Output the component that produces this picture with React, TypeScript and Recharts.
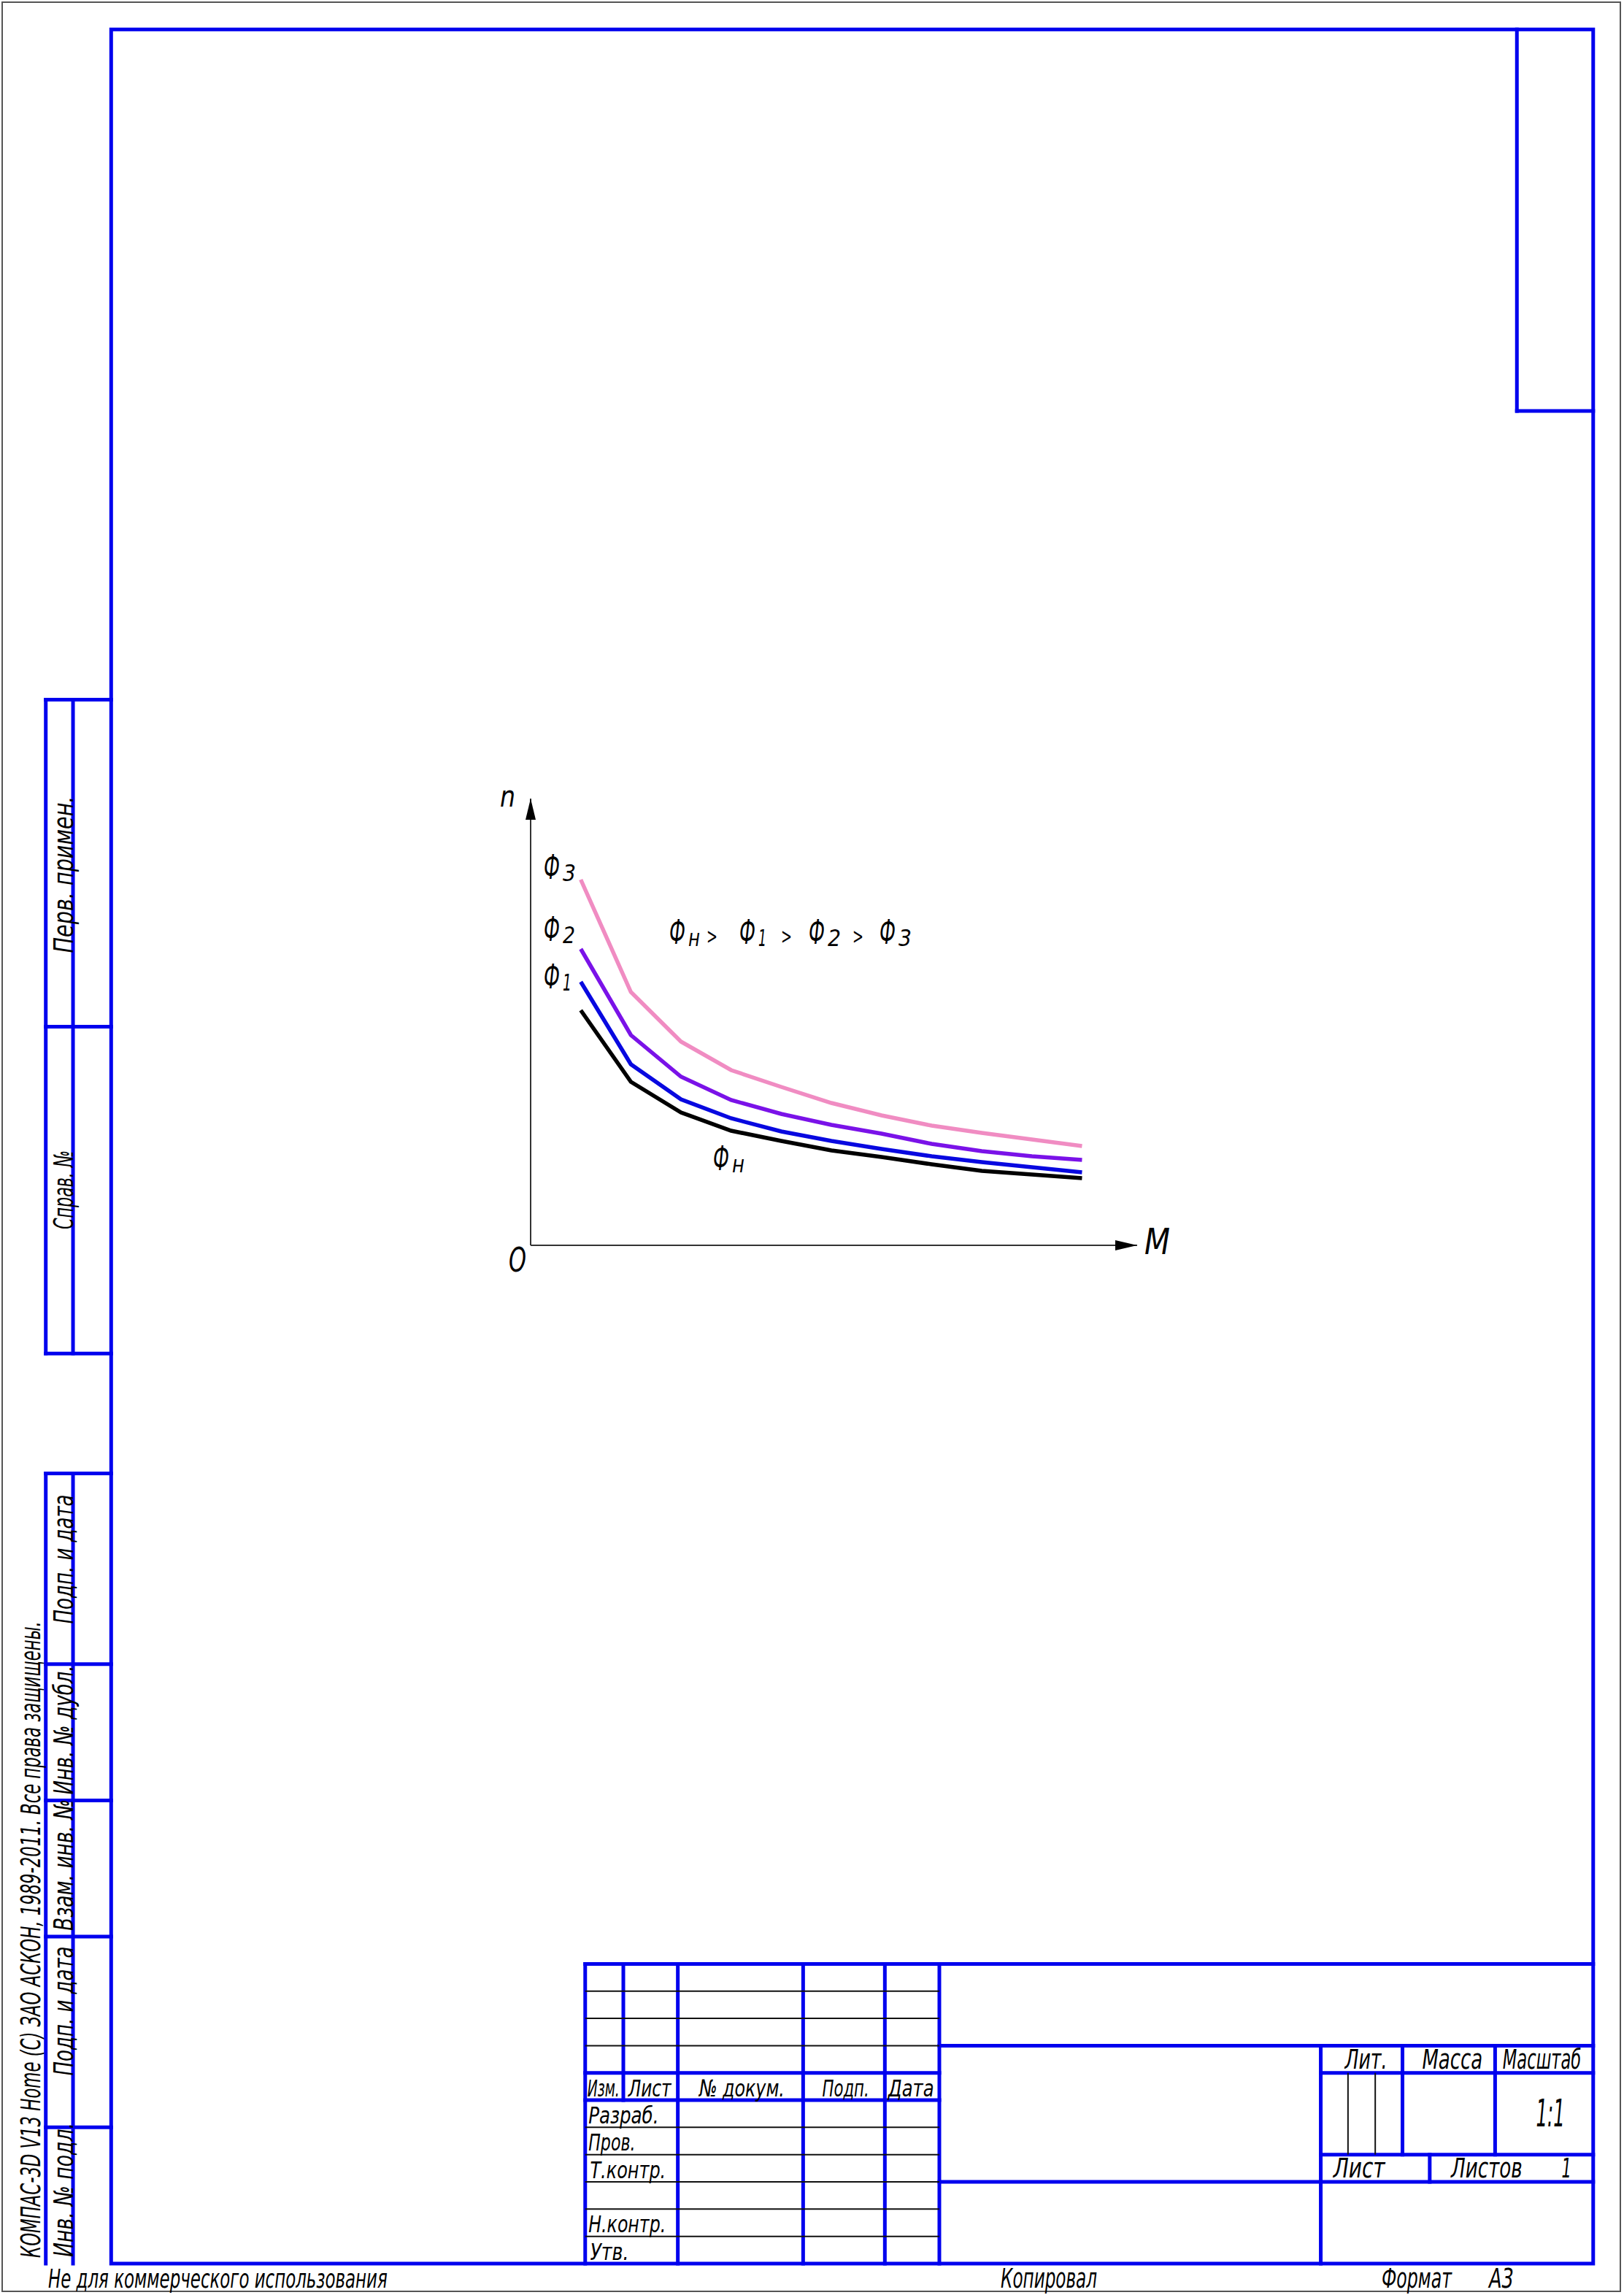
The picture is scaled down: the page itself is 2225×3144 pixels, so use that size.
import React, { useLayoutEffect, useRef, useState } from 'react'
import { LineChart, Line, XAxis, YAxis, ReferenceLine, ReferenceDot } from 'recharts'

// torque M, equally spaced points of the characteristic
const torque = [1, 2, 3, 4, 5, 6, 7, 8, 9, 10, 11]
// speed n for each field flux (0 = M axis, 612 = end of n axis)
const nPhiN = [322, 224, 182, 157, 143, 130, 121, 111, 102, 97, 92]
const nPhi1 = [361, 248, 200, 174, 156, 143, 132, 122, 114, 107, 100]
const nPhi2 = [406, 288, 231, 199, 180, 165, 153, 139, 129, 122, 117]
const nPhi3 = [501, 347, 279, 240, 217, 195, 178, 164, 154, 145, 136]

const mMax = 12.1
const nMax = 612

const data = torque.map((m, i) => ({
  m,
  phiN: nPhiN[i],
  phi1: nPhi1[i],
  phi2: nPhi2[i],
  phi3: nPhi3[i],
}))

const BLUE = '#0000ee'
const INK = '#111'
const GOST = "'DejaVu Sans Condensed', 'DejaVu Sans', sans-serif"
const PLAIN = "'DejaVu Sans', sans-serif"

// drawing units are millimetres on the A3 sheet
const mm = (v: number) => 3 + v * 7.465

// thick (blue) lines of the frame, [x1, y1, x2, y2] in mm
const thickLines = [
  [278, 5, 278, 75], [278, 75, 292, 75],
  // left strips
  [8, 128, 20, 128], [8, 128, 8, 248], [8, 248, 20, 248], [13, 128, 13, 248], [8, 188, 20, 188],
  [8, 270, 20, 270], [8, 270, 8, 415], [13, 270, 13, 415],
  [8, 305, 20, 305], [8, 330, 20, 330], [8, 355, 20, 355], [8, 390, 20, 390],
  // title block
  [107, 360, 292, 360], [107, 360, 107, 415],
  [107, 380, 172, 380], [107, 385, 172, 385],
  [114, 360, 114, 385], [124, 360, 124, 415], [147, 360, 147, 415], [162, 360, 162, 415], [172, 360, 172, 415],
  [172, 375, 292, 375], [172, 400, 292, 400], [242, 375, 242, 415],
  [242, 380, 292, 380], [242, 395, 292, 395],
  [257, 375, 257, 395], [274, 375, 274, 395], [262, 395, 262, 400],
]
const thinLines = [
  [107, 365, 172, 365], [107, 370, 172, 370], [107, 375, 172, 375],
  [107, 390, 172, 390], [107, 395, 172, 395], [107, 400, 172, 400], [107, 405, 172, 405], [107, 410, 172, 410],
  [247, 380, 247, 395], [252, 380, 252, 395],
]

// title block captions: text, left mm, right mm, baseline mm, size
const captions: [string, number, number, number, number][] = [
  ['Изм.', 107.4, 113.3, 384.3, 32],
  ['Лист', 114.9, 122.8, 384.3, 32],
  ['№ докум.', 127.9, 143.6, 384.3, 32],
  ['Подп.', 150.5, 159.1, 384.3, 32],
  ['Дата', 162.6, 171.0, 384.3, 32],
  ['Разраб.', 107.6, 120.5, 389.3, 32],
  ['Пров.', 107.6, 116.2, 394.3, 32],
  ['Т.контр.', 107.9, 121.8, 399.3, 32],
  ['Н.контр.', 107.6, 121.8, 409.3, 32],
  ['Утв.', 107.9, 115.0, 414.3, 32],
  ['Лит.', 246.4, 254.2, 379.3, 38],
  ['Масса', 260.6, 271.7, 379.3, 38],
  ['Масштаб', 275.4, 289.8, 379.3, 38],
  ['1:1', 281.5, 286.8, 389.8, 52],
  ['Лист', 244.3, 253.8, 399.2, 38],
  ['Листов', 265.9, 279.0, 399.2, 38],
  ['1', 286.2, 288.0, 399.2, 38],
]

// vertical captions in the left strips: text, centre y px, length px
const stripCaptions: [string, number, number][] = [
  ['Перв. примен.', 1198, 215],
  ['Справ. №', 1630, 108],
  ['Подп. и дата', 2136, 177],
  ['Инв. № дубл.', 2370, 177],
  ['Взам. инв. №', 2555, 180],
  ['Подп. и дата', 2755, 177],
  ['Инв. № подл.', 3000, 184],
]

// flux labels: subscript, x px, baseline px, subscript width px
const fluxLabels: [string, number, number, number][] = [
  ['3', 745, 1204, 18],
  ['2', 745, 1289, 17],
  ['1', 745, 1354, 12],
  ['н', 977, 1603, 17],
  // relation Фн > Ф1 > Ф2 > Ф3
  ['н', 917, 1293, 16],
  ['1', 1013, 1293, 11],
  ['2', 1108, 1293, 18],
  ['3', 1205, 1293, 18],
]
const relationSigns = [968, 1070, 1168]

// text squeezed (or stretched) along its run to a given length
function Fit({ x, y, w, s = 38, a = 'start', font = GOST, rot = false, children }: any) {
  const ref = useRef<SVGTextElement>(null)
  const [k, setK] = useState(1)
  useLayoutEffect(() => {
    const el = ref.current
    if (!el) return
    const len = el.getComputedTextLength()
    if (len > 0) setK(w / len)
  }, [w, s, children])
  return (
    <g transform={`translate(${x},${y})${rot ? ' rotate(-90)' : ''} scale(${k},1)`}>
      <text ref={ref} x={0} y={0} fontFamily={font} fontStyle="italic" fontSize={s} fill="#000" textAnchor={a}>
        {children}
      </text>
    </g>
  )
}

function Phi({ x, y, sub, w }: any) {
  return (
    <g>
      <Fit x={x} y={y} w={22} s={46} font={PLAIN}>Ф</Fit>
      <Fit x={x + 26} y={y + 3} w={w} s={32} font={PLAIN}>{sub}</Fit>
    </g>
  )
}

function Frame() {
  return (
    <svg width={2225} height={3144} style={{ position: 'absolute', left: 0, top: 0 }}>
      <rect x={3} y={3} width={2217} height={3136} fill="#fff" stroke="#555" strokeWidth={2} />
      <rect x={mm(20)} y={mm(5)} width={mm(292) - mm(20)} height={mm(415) - mm(5)} fill="none" stroke={BLUE} strokeWidth={5} />
      {thickLines.map(([x1, y1, x2, y2], i) => (
        <line key={'k' + i} x1={mm(x1)} y1={mm(y1)} x2={mm(x2)} y2={mm(y2)} stroke={BLUE} strokeWidth={5} strokeLinecap="square" />
      ))}
      {thinLines.map(([x1, y1, x2, y2], i) => (
        <line key={'t' + i} x1={mm(x1)} y1={mm(y1)} x2={mm(x2)} y2={mm(y2)} stroke={INK} strokeWidth={2} />
      ))}
      {captions.map(([t, a, b, y, s], i) => (
        <Fit key={'c' + i} x={mm(a)} y={mm(y)} w={mm(b) - mm(a)} s={s}>{t}</Fit>
      ))}
      {stripCaptions.map(([t, cy, w], i) => (
        <Fit key={'s' + i} x={100} y={cy} w={w} s={37} a="middle" rot>{t}</Fit>
      ))}
      <Fit x={55} y={3093} w={872} s={38} rot>КОМПАС-3D V13 Home (С) ЗАО АСКОН, 1989-2011. Все права защищены.</Fit>
      <Fit x={66} y={3134} w={465} s={36}>Не для коммерческого использования</Fit>
      <Fit x={1371} y={3134} w={132} s={38}>Копировал</Fit>
      <Fit x={1893} y={3134} w={96} s={38}>Формат</Fit>
      <Fit x={2040} y={3134} w={34} s={38}>А3</Fit>

      {/* chart annotations */}
      <Fit x={685} y={1105} w={21} s={40} font={PLAIN}>n</Fit>
      <Fit x={1568} y={1718} w={35} s={50} font={PLAIN}>M</Fit>
      <Fit x={697} y={1742} w={24} s={46} font={PLAIN}>O</Fit>
      {fluxLabels.map(([sub, x, y, w], i) => (
        <Phi key={'f' + i} x={x} y={y} sub={sub} w={w} />
      ))}
      {relationSigns.map((x, i) => (
        <Fit key={'r' + i} x={x} y={1293} w={15} s={30} font={PLAIN}>&gt;</Fit>
      ))}
    </svg>
  )
}

const arrowRight = (p: any) => (
  <path d={`M${p.cx},${p.cy} L${p.cx - 30},${p.cy - 7} L${p.cx - 30},${p.cy + 7} Z`} fill="#000" />
)
const arrowUp = (p: any) => (
  <path d={`M${p.cx},${p.cy} L${p.cx - 7},${p.cy + 29} L${p.cx + 7},${p.cy + 29} Z`} fill="#000" />
)

export default function App() {
  return (
    <div style={{ position: 'absolute', left: 0, top: 0, width: 2225, height: 3144, background: '#fff' }}>
      <Frame />
      <div style={{ position: 'absolute', left: 627, top: 1056 }}>
        <LineChart width={1000} height={700} data={data} margin={{ top: 38, right: 69, bottom: 50, left: 100 }}>
          <XAxis type="number" dataKey="m" domain={[0, mMax]} hide />
          <YAxis type="number" domain={[0, nMax]} hide />
          <ReferenceLine x={0} stroke="#333" strokeWidth={2} ifOverflow="visible" />
          <ReferenceLine y={0} stroke="#333" strokeWidth={2} ifOverflow="visible" />
          <ReferenceDot x={mMax} y={0} r={0} shape={arrowRight} ifOverflow="visible" />
          <ReferenceDot x={0} y={nMax} r={0} shape={arrowUp} ifOverflow="visible" />
          <Line type="linear" dataKey="phi3" stroke="#f08cc2" strokeWidth={5.5} dot={false} isAnimationActive={false} />
          <Line type="linear" dataKey="phi2" stroke="#7a12e8" strokeWidth={5.5} dot={false} isAnimationActive={false} />
          <Line type="linear" dataKey="phi1" stroke="#0808e0" strokeWidth={5.5} dot={false} isAnimationActive={false} />
          <Line type="linear" dataKey="phiN" stroke="#000000" strokeWidth={5.5} dot={false} isAnimationActive={false} />
        </LineChart>
      </div>
    </div>
  )
}
